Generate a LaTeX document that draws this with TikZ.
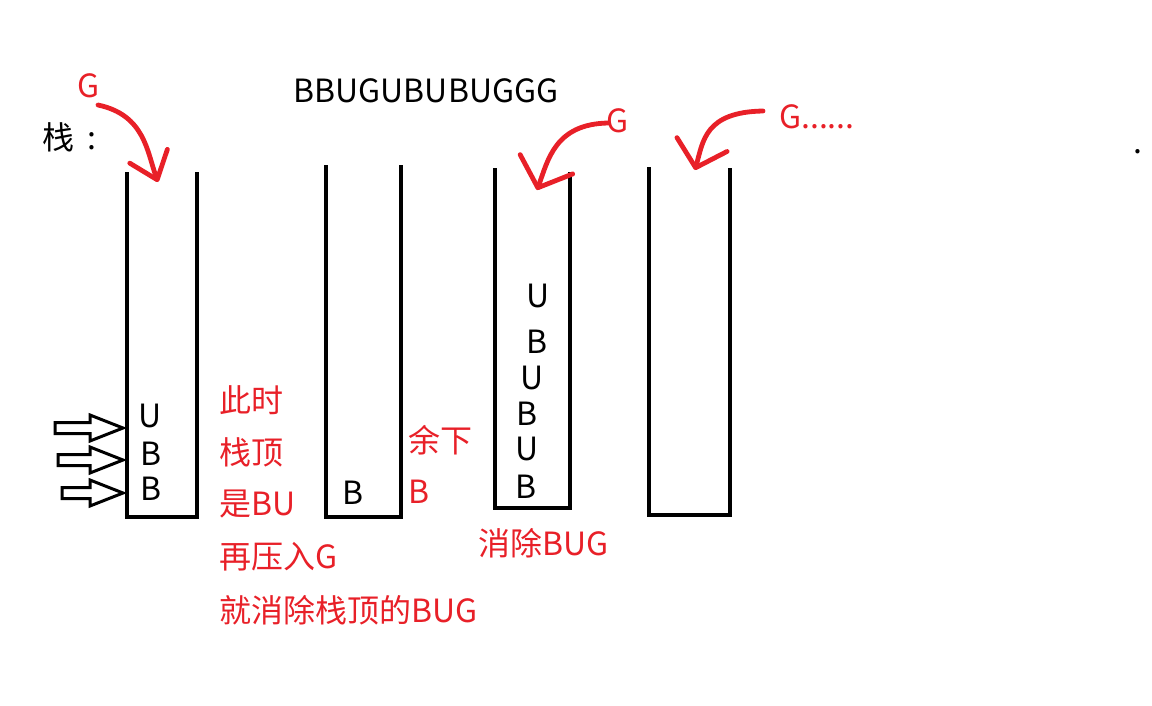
\documentclass[tikz,border=0pt]{standalone}
\usepackage{fontspec}
\setmainfont{Noto Sans CJK SC}
\usetikzlibrary{arrows.meta}
\definecolor{pen}{RGB}{232,32,40}
\begin{document}
\begin{tikzpicture}[x=1pt,y=-1pt,font=\fontsize{32}{38}\selectfont]
	\tikzstyle{stack}=[draw=black,line width=4pt,line join=miter]
	\tikzstyle{letter}=[inner sep=0pt]
	\tikzstyle{redtext}=[text=pen,anchor=west,inner sep=0pt]
	\tikzstyle{push}=[draw=pen,line width=4.8pt,line cap=round]
	\tikzstyle{hollow}=[draw=black,line width=3pt,line join=miter]
	\useasboundingbox (0,0) rectangle (1152,705);
	\begin{scope}
		% labels on top
		\node [letter] (input) at (426,91) {BBUGUBUBUGGG};
		\node [letter,anchor=west] (zhan) at (42,137) {栈\hspace{13pt}:};
		\node [letter,text=pen] (g1) at (89,86) {G};
		\node [letter,text=pen] (g2) at (618,121) {G};
		\node [letter,text=pen,anchor=west] (g3) at (779,117) {G......};
		\node [letter,anchor=base] (dot) at (1138,153) {.};

		% the four stacks
		\draw[stack] (127,172) -- (127,517) -- (197,517) -- (197,172);
		\draw[stack] (326,165) -- (326,517) -- (401,517) -- (401,165);
		\draw[stack] (495,168) -- (495,508) -- (570,508) -- (570,172);
		\draw[stack] (649,167) -- (649,515) -- (730,515) -- (730,168);

		\foreach \t/\x/\y in {U/150/416,B/151/454,B/151/489}
			\node [letter] (a\y) at (\x,\y) {\t};
		\node [letter] (b493) at (353,493) {B};
		\foreach \t/\x/\y in {U/538/296,B/537/342,U/532/378,B/527/414,U/527/449,B/526/487}
			\node [letter] (c\y) at (\x,\y) {\t};

		% notes
		\node [redtext] (n1) at (219,400) {此时};
		\node [redtext] (n2) at (219,452) {栈顶};
		\node [redtext] (n3) at (219,504) {是BU};
		\node [redtext] (n4) at (219,557) {再压入G};
		\node [redtext] (n5) at (219,610) {就消除栈顶的BUG};
		\node [redtext] (r1) at (408,440) {余下};
		\node [redtext] (r2) at (408,492) {B};
		\node [redtext] (k1) at (478,543) {消除BUG};

		% pushing G
		\coordinate (s1) at (98,105);
		\coordinate (t1) at (158,182);
		\coordinate (s2) at (608,123);
		\coordinate (t2) at (537,190);
		\coordinate (s3) at (763,111);
		\coordinate (t3) at (695,170);
		\draw[push,-{Straight Barb[length=25pt,width=40pt,round]}] (s1) .. controls (145,115) and (147,152) .. (t1);
		\draw[push,-{Straight Barb[length=25pt,width=56pt,round]}] (s2) .. controls (555,124) and (548,160) .. (t2);
		\draw[push,-{Straight Barb[length=24pt,width=52pt,round]}] (s3) .. controls (705,112) and (703,141) .. (t3);

		% pointers to the stack
		\foreach \x/\y in {55/428,58/460,62/493}
			\draw[hollow] (\x,\y-5.5) -- (90,\y-5.5) -- (90,\y-13) -- (123,\y) -- (90,\y+13) -- (90,\y+5.5) -- (\x,\y+5.5) -- cycle;
	\end{scope}
\end{tikzpicture}
\end{document}
